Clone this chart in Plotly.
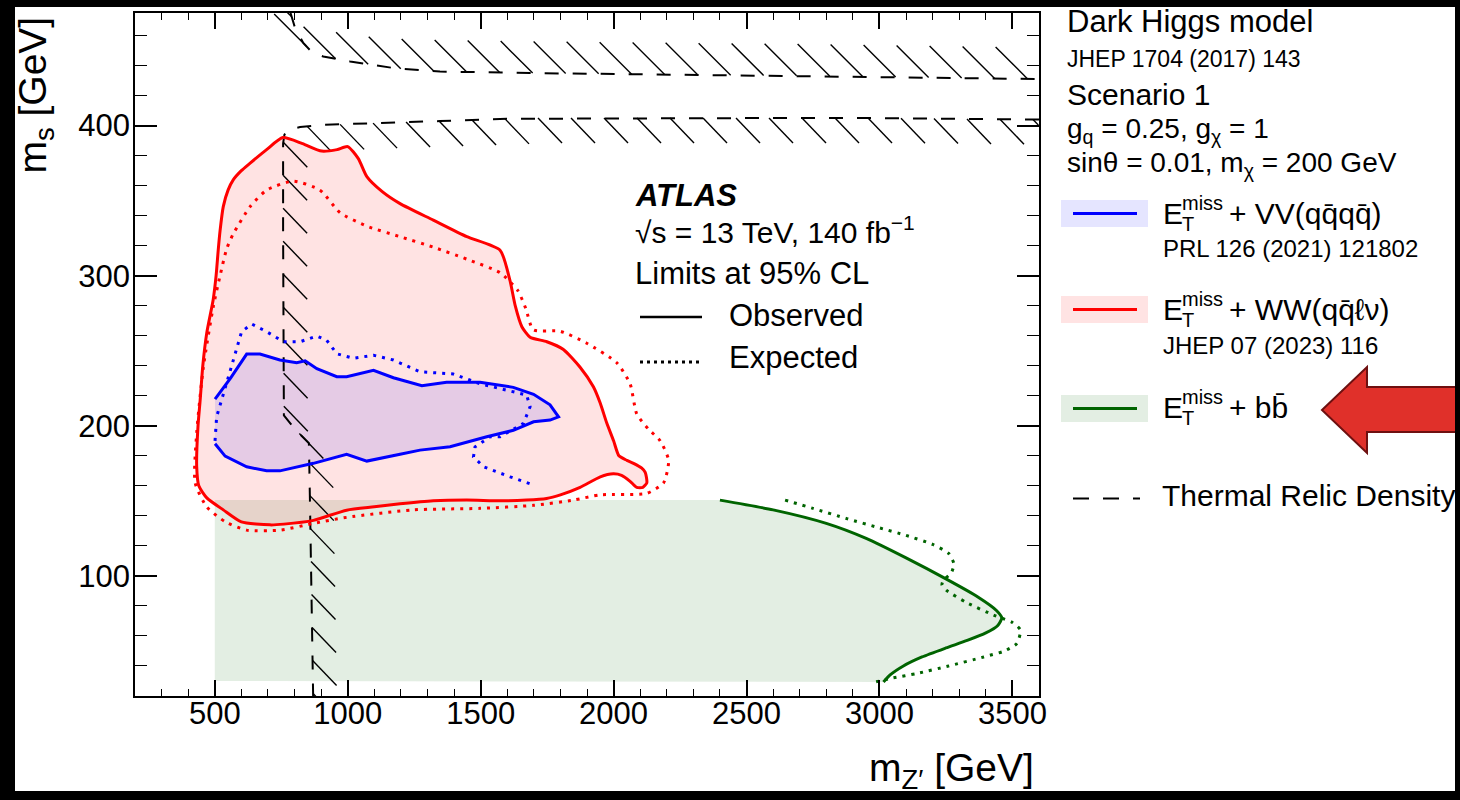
import plotly.graph_objects as go

# ---------------------------------------------------------------- data (GeV)
# E_T^miss + WW(qq l nu): observed contour (closed) and expected contour (closed)
ww_obs_x = [756, 830, 902, 960, 1000, 1040, 1072, 1130, 1197, 1322, 1448, 1573, 1610, 1630, 1655,
            1686, 1749, 1810, 1874, 1924, 1950, 1974, 2000, 2020, 2050, 2075, 2105, 2119, 2125,
            2110, 2087, 2062, 2030, 1999, 1950, 1874, 1800, 1748, 1673, 1573, 1448, 1322, 1197,
            1100, 996, 871, 760, 708, 600, 532, 470, 440, 432, 437, 445, 455, 470, 494, 505, 513,
            520, 532, 550, 570, 600, 633, 695, 756]
ww_obs_y = [392, 388, 383, 384, 386, 378, 366, 356, 348, 337, 326, 317, 297, 280, 266,
            259, 256, 251, 239, 226, 215, 202, 190, 180, 177, 175, 172, 169, 162,
            159, 159, 163, 167, 168, 166, 159, 154, 151.6, 150.5, 150, 150.5, 150, 148,
            146, 143.8, 137, 134.5, 134, 136, 144, 152, 160, 173, 200, 217, 240, 262, 284, 300, 317,
            330, 346, 357, 364, 370, 375, 384, 392]
ww_exp_x = [796, 896, 971, 1072, 1197, 1322, 1448, 1573, 1640, 1670, 1698, 1799, 1899, 2012, 2062,
            2087, 2130, 2175, 2207, 2188, 2125, 1949, 1849, 1698, 1498, 1247, 996, 871, 745, 620,
            540, 470, 426, 432, 457, 494, 520, 545, 570, 633, 695, 796]
ww_exp_y = [363, 357, 342, 333, 326, 319, 311, 302, 290, 278, 264, 263, 255, 242, 228,
            208, 198, 190, 177, 162, 155, 154, 150.5, 147, 145, 144, 139, 135, 130.5, 130.5,
            136, 146, 162, 195, 239, 279, 300, 318, 328, 346, 357, 363]

# E_T^miss + VV(qqqq): observed (open at the scan edge) and expected
vv_obs_x = [501, 560, 620, 670, 745, 808, 840, 884, 959, 996, 1097, 1172, 1279, 1372, 1448, 1498,
            1623, 1699, 1761, 1793, 1761, 1699, 1623, 1523, 1385, 1272, 1197, 1072, 996, 871, 745,
            695, 620, 539, 501]
vv_obs_y = [217.8, 232, 247.8, 247.8, 243.8, 242, 243.3, 238, 232.7, 232.7, 237, 232, 226.7, 229,
            229, 229, 225.6, 221, 214, 206, 203.8, 202.7, 197, 192.7, 186, 183.8, 181, 176.5, 181,
            175, 170, 170, 172.7, 179.8, 188]
vv_exp_x = [501, 507, 557, 601, 639, 695, 758, 821, 884, 921, 959, 1021, 1097, 1172, 1272, 1397,
            1498, 1598, 1673, 1686, 1661, 1636, 1573, 1536, 1479, 1473, 1511, 1611, 1692]
vv_exp_y = [190, 206, 236, 262.7, 267.8, 262.7, 256, 256, 259.8, 257, 248, 245, 247, 243.8, 236,
            234.5, 228, 224, 220.5, 212.7, 201.6, 199, 192.7, 192.7, 186, 179.3, 172.7, 166, 161]

# E_T^miss + bb: observed and expected boundaries, excluded band
bb_obs_x = [2400, 2600, 2800, 2950, 3100, 3250, 3370, 3440, 3460, 3445, 3400, 3330, 3250, 3160,
            3090, 3040, 3015]
bb_obs_y = [150.5, 144, 135, 125, 112, 98, 86, 77, 72, 67, 62, 57, 52, 46,
            40, 34, 29.3]
bb_exp_x = [2645, 2750, 2880, 3000, 3100, 3200, 3260, 3280, 3270, 3240, 3235, 3251, 3330, 3428,
            3500, 3530, 3517, 3470, 3392, 3260, 3141, 3050, 2984]
bb_exp_y = [150.5, 145, 138, 132, 127, 121, 115, 108, 102, 97, 94, 90.5, 82, 74,
            69, 64, 55, 50, 46, 40, 35, 32, 29.3]
bb_band_xmin = 500
bb_band_ymin = 30
bb_band_ymax = 150.5

# Thermal relic density contours
relic_low_x = [3600, 3300, 3000, 2500, 2000, 1711, 1598, 1347, 1147, 1009, 908, 821, 777, 762, 757,
               757, 758, 760, 800, 854, 858, 862, 866, 870]
relic_low_y = [404, 404.5, 405, 405, 405, 405, 404.5, 403, 402, 401, 400.5, 399, 397, 394, 388,
               330, 260, 207, 198, 188.5, 150, 110, 65, 20]
relic_up_x = [785, 802, 833, 865, 908, 1009, 1185, 1347, 1686, 2200, 2800, 3600]
relic_up_y = [475, 465, 455, 449, 446, 442.7, 438, 436, 435, 434, 433, 431]

# axes
x_range = [200, 3600]
y_range = [20, 475]
x_major, x_minor = 500, 100
y_major, y_minor = 100, 20

# ---------------------------------------------------------------- layout geometry
FIG_W, FIG_H = 1460, 800
M_L, M_R, M_T, M_B = 135, 421, 13, 104
PW = FIG_W - M_L - M_R
PH = FIG_H - M_T - M_B
SX = PW / (x_range[1] - x_range[0])   # px per GeV along x
SY = PH / (y_range[1] - y_range[0])   # px per GeV along y

FONT = "Liberation Sans, Arial, Helvetica, sans-serif"

RED, BLUE, GREEN = "#ff0000", "#0000ff", "#006400"
RED_FILL = "rgba(255,0,0,0.11)"
BLUE_FILL = "rgba(0,0,255,0.10)"
GREEN_FILL = "rgba(0,100,0,0.11)"
DOTS = "3px,6px"


def pxx(px):
    return (px - M_L) / PW


def pxy(py):
    return (FIG_H - M_B - py) / PH


def hatch_segments(xs, ys, step, hx, hy, start):
    """Short ticks along a polyline, every `step` px of arc length.
    hx, hy: tick vector in px (x right, y down)."""
    pts = [((x - x_range[0]) * SX, (y - y_range[0]) * SY) for x, y in zip(xs, ys)]
    out_x, out_y = [], []
    target = start
    acc = 0.0
    for (x0, y0), (x1, y1) in zip(pts[:-1], pts[1:]):
        seg = ((x1 - x0) ** 2 + (y1 - y0) ** 2) ** 0.5
        while seg > 0 and target <= acc + seg:
            t = (target - acc) / seg
            px_ = x0 + t * (x1 - x0)
            py_ = y0 + t * (y1 - y0)
            gx = px_ / SX + x_range[0]
            gy = py_ / SY + y_range[0]
            out_x += [gx, gx + hx / SX, None]
            out_y += [gy, gy - hy / SY, None]
            target += step
        acc += seg
    return out_x, out_y


fig = go.Figure()

# excluded band for bb
fig.add_trace(go.Scatter(
    x=[bb_band_xmin, bb_band_xmin] + bb_obs_x,
    y=[bb_band_ymin, bb_band_ymax] + bb_obs_y,
    fill="toself", fillcolor=GREEN_FILL, mode="lines", line=dict(width=0),
    hoverinfo="skip", showlegend=False))
# WW excluded region
fig.add_trace(go.Scatter(
    x=ww_obs_x, y=ww_obs_y, fill="toself", fillcolor=RED_FILL, mode="lines",
    line=dict(width=0, shape="spline", smoothing=0.6), hoverinfo="skip", showlegend=False))
# VV excluded region
fig.add_trace(go.Scatter(
    x=vv_obs_x, y=vv_obs_y, fill="toself", fillcolor=BLUE_FILL, mode="lines",
    line=dict(width=0), hoverinfo="skip", showlegend=False))

# thermal relic density: hatched dashed contours
hx1, hy1 = hatch_segments(relic_low_x, relic_low_y, 33, 24, 25, 6)
hx2, hy2 = hatch_segments(relic_up_x, relic_up_y, 33, -32, -32, 4)
fig.add_trace(go.Scatter(x=hx1 + hx2, y=hy1 + hy2, mode="lines",
                         line=dict(color="black", width=1.4), hoverinfo="skip", showlegend=False))
for xs, ys in [(relic_low_x, relic_low_y), (relic_up_x, relic_up_y)]:
    fig.add_trace(go.Scatter(x=xs, y=ys, mode="lines",
                             line=dict(color="black", width=2, dash="14px,14px"),
                             hoverinfo="skip", showlegend=False))

# expected contours
fig.add_trace(go.Scatter(x=ww_exp_x, y=ww_exp_y, mode="lines",
                         line=dict(color=RED, width=3, dash=DOTS, shape="spline", smoothing=0.6),
                         hoverinfo="skip", showlegend=False))
fig.add_trace(go.Scatter(x=vv_exp_x, y=vv_exp_y, mode="lines",
                         line=dict(color=BLUE, width=3, dash=DOTS),
                         hoverinfo="skip", showlegend=False))
fig.add_trace(go.Scatter(x=bb_exp_x, y=bb_exp_y, mode="lines",
                         line=dict(color=GREEN, width=3, dash=DOTS, shape="spline", smoothing=0.6),
                         hoverinfo="skip", showlegend=False))
# observed contours
fig.add_trace(go.Scatter(x=ww_obs_x, y=ww_obs_y, mode="lines",
                         line=dict(color=RED, width=3, shape="spline", smoothing=0.6),
                         hoverinfo="skip", showlegend=False))
fig.add_trace(go.Scatter(x=vv_obs_x, y=vv_obs_y, mode="lines",
                         line=dict(color=BLUE, width=3),
                         hoverinfo="skip", showlegend=False))
fig.add_trace(go.Scatter(x=bb_obs_x, y=bb_obs_y, mode="lines",
                         line=dict(color=GREEN, width=3, shape="spline", smoothing=0.6),
                         hoverinfo="skip", showlegend=False))

# ---------------------------------------------------------------- text helpers
annotations = []
shapes = []


def text(x, baseline, s, size, xanchor="left", sub=False, bold=False, italic=False):
    if bold:
        s = "<b>" + s + "</b>"
    if italic:
        s = "<i>" + s + "</i>"
    if sub:
        y, ya = baseline - 0.905 * size - 1, "top"
    else:
        y, ya = baseline + 0.212 * size + 1, "bottom"
    annotations.append(dict(
        x=pxx(x), y=pxy(y), xref="paper", yref="paper", text=s, showarrow=False,
        xanchor=xanchor, yanchor=ya, font=dict(family=FONT, size=size, color="black")))


def etmiss(x, baseline, rest, size=30):
    text(x, baseline, "E", size)
    text(x + 19, baseline - 14, "miss", 20)
    text(x + 19, baseline + 7, "T", 20)
    text(x + 66, baseline, rest, size)


def hline(x0, x1, y, color, width, dash=None):
    shapes.append(dict(type="line", xref="paper", yref="paper", x0=pxx(x0), x1=pxx(x1),
                       y0=pxy(y), y1=pxy(y), line=dict(color=color, width=width,
                                                         dash=dash or "solid")))


def box(x0, x1, y0, y1, fill):
    shapes.append(dict(type="rect", xref="paper", yref="paper", x0=pxx(x0), x1=pxx(x1),
                       y0=pxy(y1), y1=pxy(y0), fillcolor=fill, line=dict(width=0)))


# ATLAS label block
text(633, 207, "ATLAS", 31, bold=True, italic=True)
text(633, 244, "\u221as = 13 TeV, 140 fb<sup>\u22121</sup>", 30)
text(633, 285, "Limits at 95% CL", 31)
hline(640, 702, 317, "black", 2.5)
text(727, 327, "Observed", 31)
hline(640, 702, 362, "black", 3, "3px,4px")
text(727, 369, "Expected", 31)

# model description
text(1065, 33, "Dark Higgs model", 31)
text(1065, 68, "JHEP 1704 (2017) 143", 23)
text(1065, 106, "Scenario 1", 30)
text(1065, 137, "g<sub>q</sub> = 0.25, g<sub>\u03c7</sub> = 1", 28, sub=True)
text(1065, 171, "sin\u03b8 = 0.01, m<sub>\u03c7</sub> = 200 GeV", 28, sub=True)

# legend
QB = "q\u0304"
box(1061, 1148, 200, 227, BLUE_FILL)
hline(1073, 1137, 213.5, BLUE, 3)
etmiss(1161, 224.5, "+ VV(q" + QB + "q" + QB + ")")
text(1161, 258, "PRL 126 (2021) 121802", 24)

box(1061, 1148, 296, 323, RED_FILL)
hline(1073, 1137, 309.5, RED, 3)
etmiss(1161, 320.5, "+ WW(q" + QB + "\u2113\u03bd)")
text(1161, 355, "JHEP 07 (2023) 116", 24)

box(1061, 1148, 395, 422, GREEN_FILL)
hline(1073, 1137, 408.5, GREEN, 3)
etmiss(1161, 419, "+ b" + "b\u0304")

hline(1073, 1140, 498.5, "black", 2, "16px,14px")
text(1160, 507, "Thermal Relic Density", 30)

# axis titles
text(1036, 780, "m<sub>Z\u2032</sub> [GeV]", 39, xanchor="right", sub=True)
annotations.append(dict(
    x=pxx(8.5), y=pxy(14), xref="paper", yref="paper", text="m<sub>s</sub> [GeV]",
    showarrow=False, textangle=-90, xanchor="left", yanchor="top",
    font=dict(family=FONT, size=39, color="black")))

# pointer arrow
arrow_pts = [(1322, 410), (1367, 367), (1367, 387), (1470, 387), (1470, 432), (1367, 432), (1367, 453)]
path = "M " + " L ".join(f"{pxx(a):.5f},{pxy(b):.5f}" for a, b in arrow_pts) + " Z"
shapes.append(dict(type="path", xref="paper", yref="paper", path=path,
                   fillcolor="#e0302a", line=dict(color="#6e1010", width=2), layer="above"))

# outer black frame of the picture
for x0, x1, y0, y1 in [(0, 15, 0, FIG_H), (1455, FIG_W, 0, FIG_H), (0, FIG_W, 0, 7), (0, FIG_W, 791, FIG_H)]:
    shapes.append(dict(type="rect", xref="paper", yref="paper", x0=pxx(x0), x1=pxx(x1),
                       y0=pxy(y1), y1=pxy(y0), fillcolor="black", line=dict(width=0),
                       layer="above"))

axis_common = dict(showgrid=False, zeroline=False, showline=True, linecolor="black",
                   linewidth=1.5, mirror="allticks", ticks="inside", tickcolor="black",
                   tickwidth=1.5, tickfont=dict(family=FONT, size=31, color="black"))

fig.update_layout(
    width=FIG_W, height=FIG_H, autosize=False,
    margin=dict(l=M_L, r=M_R, t=M_T, b=M_B, pad=0),
    paper_bgcolor="white", plot_bgcolor="white",
    xaxis=dict(range=x_range, tick0=0, dtick=x_major, ticklen=16, ticklabelstandoff=-11,
               minor=dict(ticks="inside", ticklen=7, dtick=x_minor, tick0=0,
                          tickcolor="black", tickwidth=1.2),
               **axis_common),
    yaxis=dict(range=y_range, tick0=0, dtick=y_major, ticklen=22, ticklabelstandoff=-3,
               minor=dict(ticks="inside", ticklen=12, dtick=y_minor, tick0=0,
                          tickcolor="black", tickwidth=1.2),
               **axis_common),
    annotations=annotations, shapes=shapes, showlegend=False,
)

fig.write_html("out.html")
